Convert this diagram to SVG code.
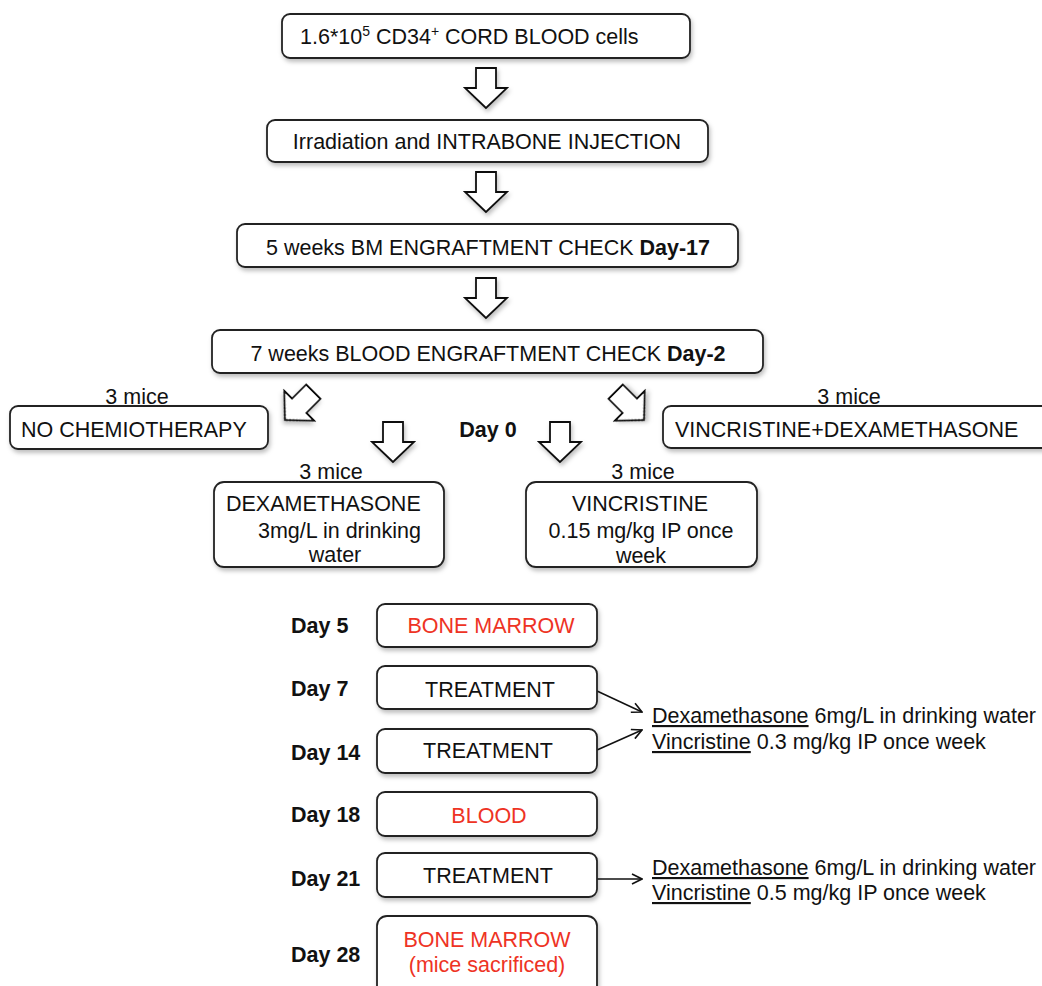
<svg xmlns="http://www.w3.org/2000/svg" width="1042" height="986" viewBox="0 0 1042 986">
<defs>
<filter id="sh" x="-20%" y="-20%" width="140%" height="160%">
<feDropShadow dx="1.5" dy="3" stdDeviation="2" flood-color="#000" flood-opacity="0.25"/>
</filter>
<marker id="open" viewBox="0 0 12 12" refX="11" refY="6" markerWidth="12" markerHeight="12" markerUnits="userSpaceOnUse" orient="auto">
<path d="M1,1 L11,6 L1,11" fill="none" stroke="#111" stroke-width="1.6"/>
</marker>
<path id="barrow" d="M0,0 L-21,-20 L-10,-20 L-10,-40 L10,-40 L10,-20 L21,-20 Z"/>
</defs>
<style>
text{font-family:"Liberation Sans",Arial,Helvetica,sans-serif;font-size:21.5px;fill:#111}
.b{font-weight:bold}
.red{fill:#ee3324}
.box{fill:#fff;stroke:#222;stroke-width:1.8;filter:url(#sh)}
.ba{fill:#fff;stroke:#111;stroke-width:1.8;stroke-linejoin:miter;filter:url(#sh)}
.ln{stroke:#111;stroke-width:1.5;fill:none;marker-end:url(#open)}
.u{text-decoration:underline}
</style>
<rect width="1042" height="986" fill="#fff"/>

<g id="connectors">
<use href="#barrow" class="ba" transform="translate(486,108)"/>
<use href="#barrow" class="ba" transform="translate(486,212)"/>
<use href="#barrow" class="ba" transform="translate(486,318)"/>
<use href="#barrow" class="ba" transform="translate(285,420) rotate(45)"/>
<use href="#barrow" class="ba" transform="translate(644,420) rotate(-45)"/>
<use href="#barrow" class="ba" transform="translate(393,462)"/>
<use href="#barrow" class="ba" transform="translate(560,462)"/>
<line class="ln" x1="597" y1="691" x2="642" y2="712"/>
<line class="ln" x1="597" y1="750" x2="642" y2="730"/>
<line class="ln" x1="597" y1="879" x2="642" y2="879"/>
</g>

<g id="n1">
<rect class="box" x="282" y="14" width="408" height="44" rx="8"/>
<text x="300" y="44">1.6*10<tspan dy="-8" font-size="14">5</tspan><tspan dy="8"> CD34</tspan><tspan dy="-8" font-size="14">+</tspan><tspan dy="8"> CORD BLOOD cells</tspan></text>
</g>
<g id="n2">
<rect class="box" x="267" y="120" width="441" height="42" rx="8"/>
<text x="487" y="149" text-anchor="middle">Irradiation and INTRABONE INJECTION</text>
</g>
<g id="n3">
<rect class="box" x="237" y="224" width="501" height="43" rx="8"/>
<text x="488" y="255" text-anchor="middle">5 weeks BM ENGRAFTMENT CHECK <tspan class="b">Day-17</tspan></text>
</g>
<g id="n4">
<rect class="box" x="212" y="330" width="551" height="43" rx="8"/>
<text x="488" y="361" text-anchor="middle">7 weeks BLOOD ENGRAFTMENT CHECK <tspan class="b">Day-2</tspan></text>
</g>
<g id="n5">
<rect class="box" x="10" y="406" width="258" height="43" rx="8"/>
<text x="137" y="404" text-anchor="middle">3 mice</text>
<text x="21" y="437">NO CHEMIOTHERAPY</text>
</g>
<g id="n6">
<rect class="box" x="663" y="406" width="400" height="42" rx="8"/>
<text x="849" y="404" text-anchor="middle">3 mice</text>
<text x="675" y="437">VINCRISTINE+DEXAMETHASONE</text>
</g>
<g id="day0">
<text class="b" x="488" y="437" text-anchor="middle">Day 0</text>
</g>
<g id="n7">
<rect class="box" x="214" y="482" width="230" height="85" rx="10"/>
<text x="331" y="479" text-anchor="middle">3 mice</text>
<text x="226" y="511">DEXAMETHASONE</text>
<text x="258" y="538">3mg/L in drinking</text>
<text x="335" y="562" text-anchor="middle">water</text>
</g>
<g id="n8">
<rect class="box" x="526" y="482" width="231" height="85" rx="10"/>
<text x="643" y="479" text-anchor="middle">3 mice</text>
<text x="640" y="511" text-anchor="middle">VINCRISTINE</text>
<text x="641" y="538" text-anchor="middle">0.15 mg/kg IP once</text>
<text x="641" y="563" text-anchor="middle">week</text>
</g>

<g id="d5">
<text class="b" x="291" y="633">Day 5</text>
<rect class="box" x="377" y="604" width="220" height="43" rx="8"/>
<text class="red" x="491" y="633" text-anchor="middle">BONE MARROW</text>
</g>
<g id="d7">
<text class="b" x="291" y="696">Day 7</text>
<rect class="box" x="377" y="666" width="220" height="43" rx="8"/>
<text x="490" y="697" text-anchor="middle">TREATMENT</text>
</g>
<g id="d14">
<text class="b" x="291" y="760">Day 14</text>
<rect class="box" x="377" y="729" width="220" height="44" rx="8"/>
<text x="488" y="758" text-anchor="middle">TREATMENT</text>
</g>
<g id="t1">
<text x="652" y="723"><tspan class="u">Dexamethasone</tspan> 6mg/L in drinking water</text>
<text x="652" y="749"><tspan class="u">Vincristine</tspan> 0.3 mg/kg IP once week</text>
</g>
<g id="d18">
<text class="b" x="291" y="822">Day 18</text>
<rect class="box" x="377" y="792" width="220" height="44" rx="8"/>
<text class="red" x="489" y="823" text-anchor="middle">BLOOD</text>
</g>
<g id="d21">
<text class="b" x="291" y="886">Day 21</text>
<rect class="box" x="377" y="853" width="220" height="44" rx="8"/>
<text x="488" y="883" text-anchor="middle">TREATMENT</text>
</g>
<g id="t2">
<text x="652" y="875"><tspan class="u">Dexamethasone</tspan> 6mg/L in drinking water</text>
<text x="652" y="900"><tspan class="u">Vincristine</tspan> 0.5 mg/kg IP once week</text>
</g>
<g id="d28">
<text class="b" x="291" y="962">Day 28</text>
<rect class="box" x="377" y="916" width="220" height="80" rx="10"/>
<text class="red" x="487" y="947" text-anchor="middle">BONE MARROW</text>
<text class="red" x="487" y="972" text-anchor="middle">(mice sacrificed)</text>
</g>
</svg>
